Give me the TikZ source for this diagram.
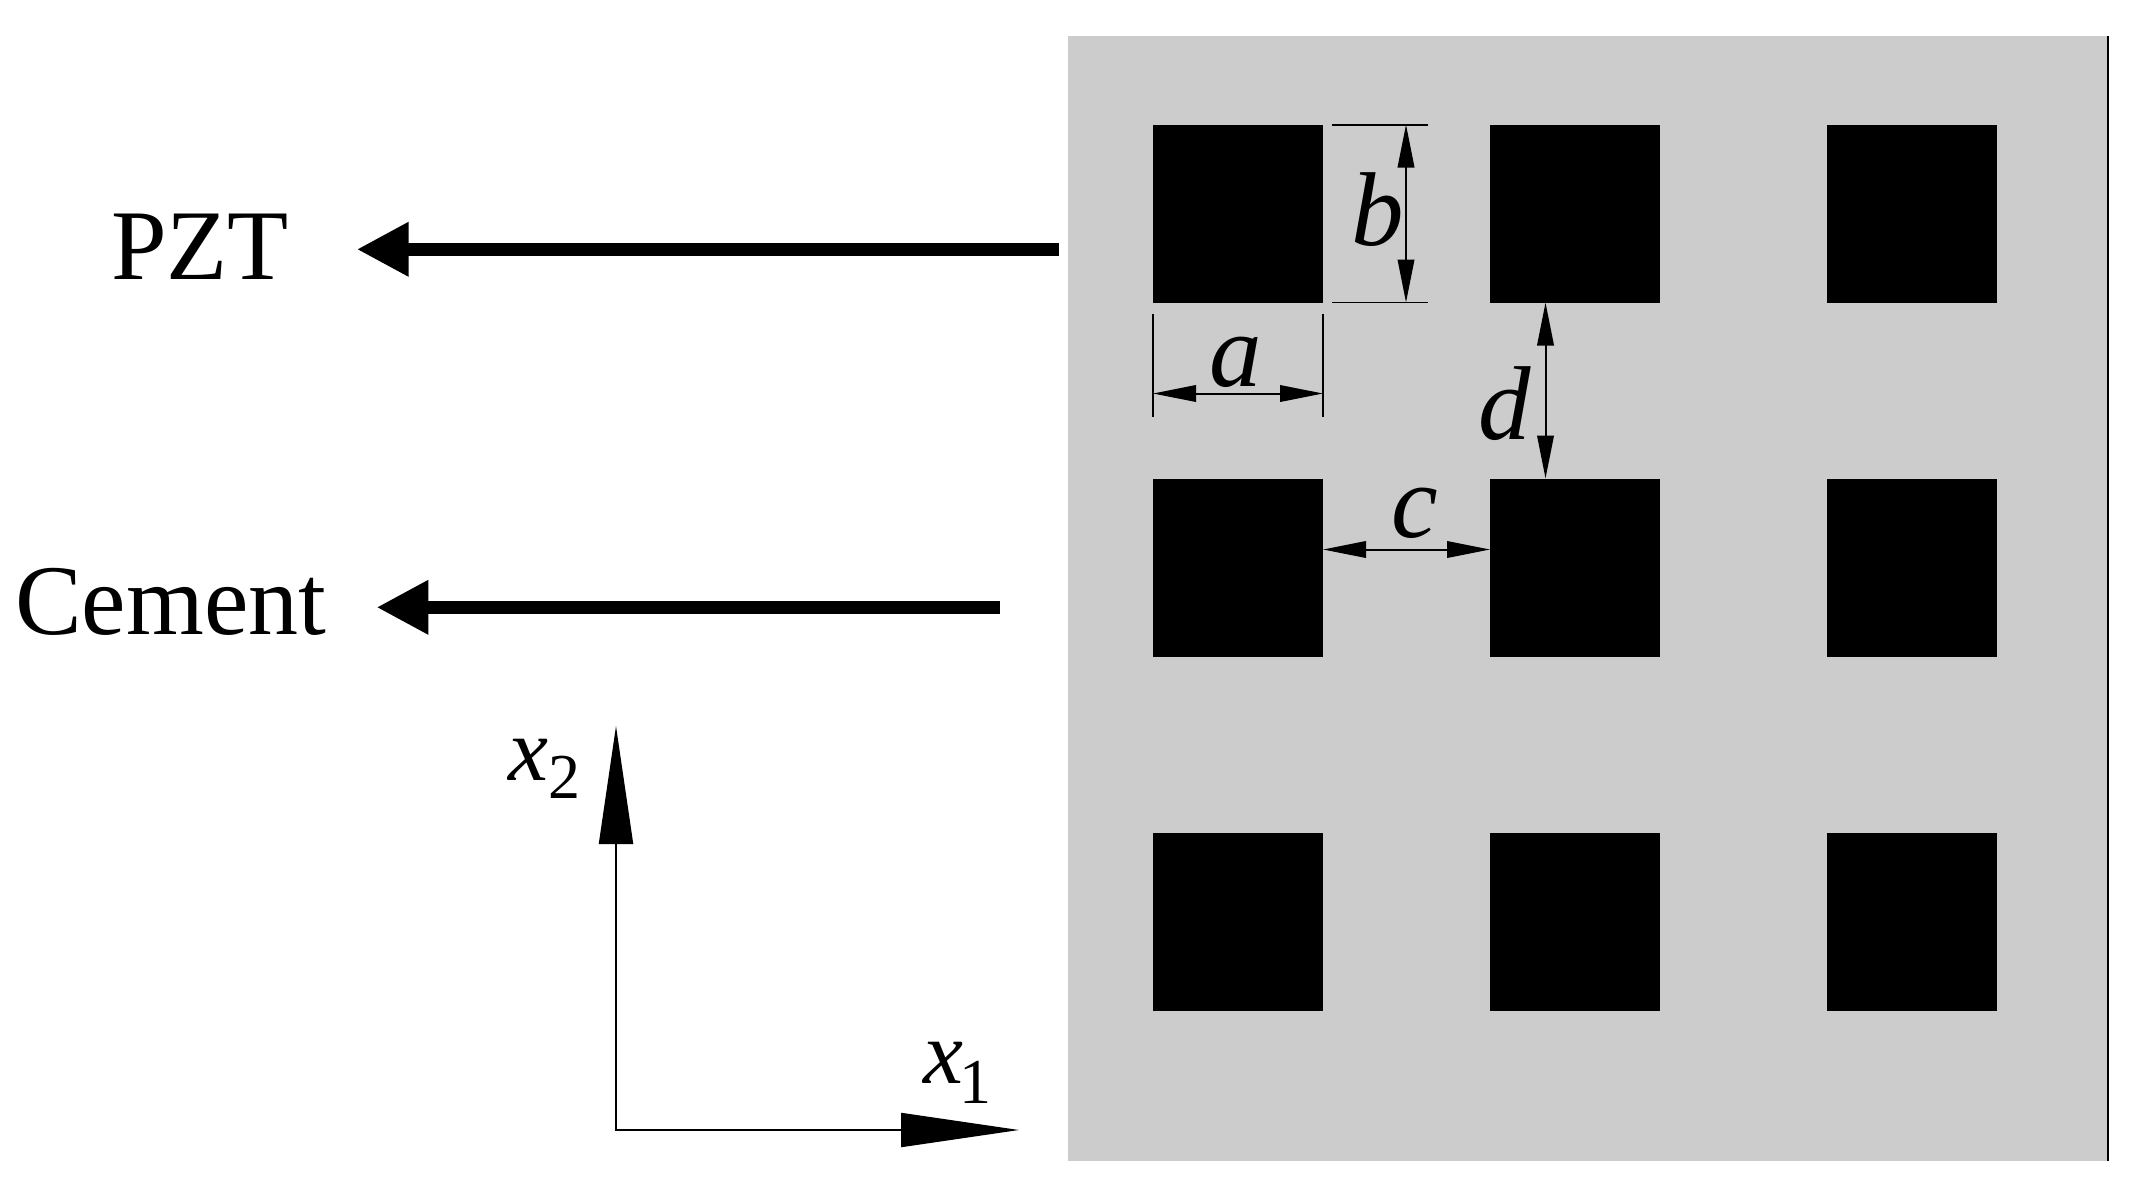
\documentclass[tikz,border=0pt]{standalone}
\usepackage{fontspec}
\setmainfont{Liberation Serif}
\usetikzlibrary{arrows.meta,positioning}
\definecolor{cementgray}{HTML}{CCCCCC}
\tikzset{
hole/.style={fill=black, minimum width=170pt, minimum height=178pt, inner sep=0pt, outer sep=0pt},
dimline/.style={line width=1.5pt},
dimarrow/.style={line width=2pt, {Triangle[length=43pt,width=16.5pt]}-{Triangle[length=43pt,width=16.5pt]}},
axisarrow/.style={line width=2pt, -{Triangle[length=118pt,width=34pt]}},
bigarrow/.style={line width=13pt, -{Triangle[length=52pt,width=51pt]}},
biglabel/.style={anchor=base west, inner sep=0pt, font=\fontsize{100}{100}\selectfont},
dimlabel/.style={anchor=base, inner sep=0pt, font=\fontsize{105}{105}\selectfont\itshape},
axislabel/.style={anchor=base west, inner sep=0pt, font=\fontsize{90}{90}\selectfont}
}
\newcommand{\axisname}[2]{\textit{x}\raisebox{#2pt}{\fontsize{64}{64}\selectfont #1}}

\begin{document}
\begin{tikzpicture}[x=1pt, y=-1pt]
\useasboundingbox (0,0) rectangle (2131,1181);
\node (plate) [fill=cementgray, inner sep=0pt, outer sep=0pt, minimum width=1039pt, minimum height=1125pt] at (1587.5,598.5) {};
\draw[line width=2pt] (plate.north east) ++(1,0) -- ([xshift=1pt]plate.south east);
\foreach \col/\xc in {1/1238,2/1575,3/1912}
\foreach \row/\yc in {1/213.5,2/567.5,3/922}
\node[hole] (s\col\row) at (\xc,\yc) {};

\draw[dimline] ([xshift=9pt,yshift=-.7pt]s11.north east) -- ++(96,0);
\draw[dimline] ([xshift=9pt]s11.south east) -- ++(96,0);
\draw[dimline] ([yshift=-11pt]s11.south west) -- ++(0,103);
\draw[dimline] ([yshift=-11pt]s11.south east) -- ++(0,103);
\draw[dimarrow] ([yshift=-91pt]s11.south west) -- ([yshift=-91pt]s11.south east);
\draw[dimarrow] ([xshift=83pt]s11.north east) -- ([xshift=83pt]s11.south east);
\draw[dimarrow] ([yshift=18pt]s12.east) -- ([yshift=18pt]s22.west);
\draw[dimarrow] ([xshift=-29.5pt]s21.south) -- ([xshift=-29.5pt]s22.north);
\node[dimlabel] (a) at (1236,386) {a};
\node[dimlabel] (b) at (1378,245) {b};
\node[dimlabel] (c) at (1415,537) {c};
\node[dimlabel] (d) at (1505,439) {d};

\node[biglabel] (pzt) at (111,279) {PZT};
\node[biglabel] (cem) at (15,634) {Cement};
\coordinate (pztend) at (1059,249.3);
\coordinate (cemend) at (1000,607.3);
\draw[bigarrow, shorten >=67.5pt] (pztend) -- (pztend -| pzt.east);
\draw[bigarrow, shorten >=50pt] (cemend) -- (cemend -| cem.east);

\coordinate (o) at (616,1130);
\coordinate (xonetip) at (1019,1130);
\coordinate (xtwotip) at (616,726);
\draw[line width=2pt] (xtwotip) ++(0,100) -- (o) -- ++(300,0);
\draw[axisarrow] (o) -- (xonetip);
\draw[axisarrow] (o) -- (xtwotip);
\node[axislabel] (xone) at (923,1083) {\axisname{\kern-4pt 1}{-20}};
\node[axislabel] (xtwo) at (508,780) {\axisname{2}{-18}};
\end{tikzpicture}
\end{document}
